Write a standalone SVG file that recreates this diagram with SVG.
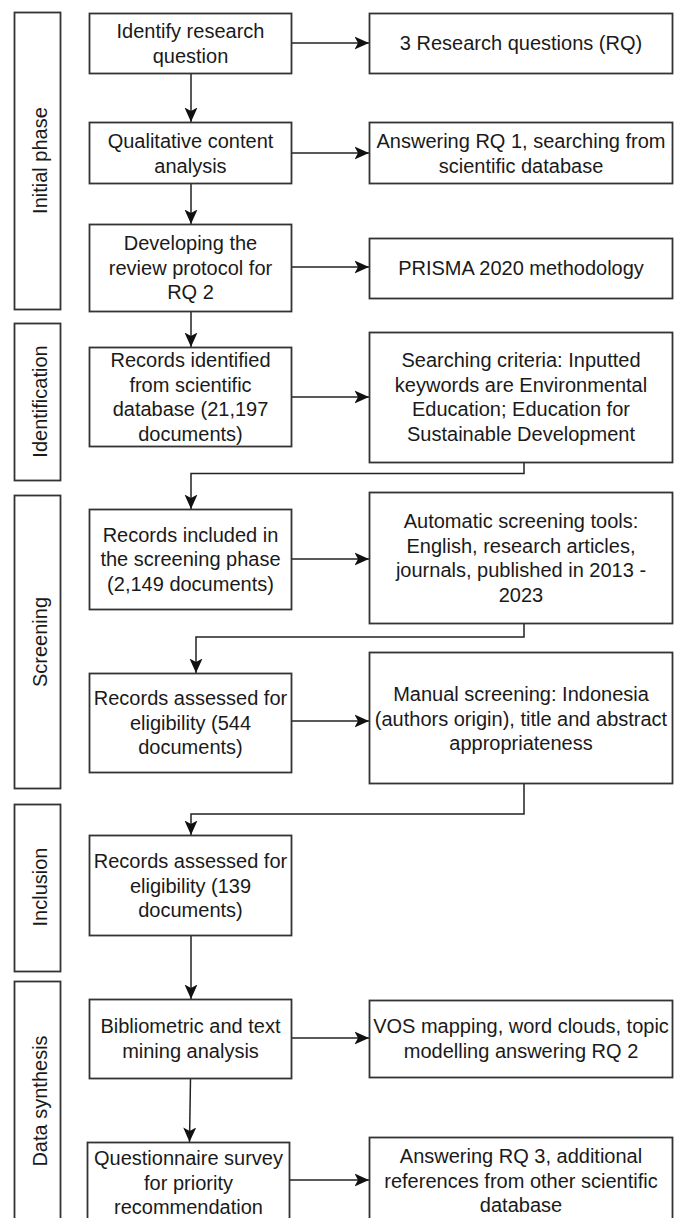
<svg xmlns="http://www.w3.org/2000/svg" width="676" height="1218" viewBox="0 0 676 1218">
<defs>
<marker id="arr" markerUnits="userSpaceOnUse" markerWidth="16" markerHeight="14" refX="14.5" refY="7" orient="auto">
<path d="M0,0.5 L14.5,7 L0,13.5 L3.5,7 Z" fill="#111"/>
</marker>
<style>
.box{fill:#fff;stroke:#333;stroke-width:1.8}
.ph{fill:#fff;stroke:#333;stroke-width:1.8}
.t{font-family:"Liberation Sans",Arial,sans-serif;font-size:20px;fill:#1a1a1a;text-anchor:middle}
.c{fill:none;stroke:#222;stroke-width:1.5}
</style>
</defs>
<rect width="676" height="1218" fill="#fff"/>

<g id="phase-initial"><rect class="ph" x="14.5" y="12.5" width="46" height="297"/><text class="t" x="46.5" y="160.5" transform="rotate(-90 46.5 160.5)">Initial phase</text></g>
<g id="phase-identification"><rect class="ph" x="14.5" y="323.5" width="46" height="157"/><text class="t" x="46.5" y="401.5" transform="rotate(-90 46.5 401.5)">Identification</text></g>
<g id="phase-screening"><rect class="ph" x="14.5" y="495.5" width="46" height="293"/><text class="t" x="46.5" y="642" transform="rotate(-90 46.5 642)">Screening</text></g>
<g id="phase-inclusion"><rect class="ph" x="14.5" y="804.5" width="46" height="167"/><text class="t" x="46.5" y="887" transform="rotate(-90 46.5 887)">Inclusion</text></g>
<g id="phase-synthesis"><rect class="ph" x="14.5" y="981.5" width="46" height="250"/><text class="t" x="46.5" y="1101" transform="rotate(-90 46.5 1101)">Data synthesis</text></g>

<g id="connectors">
<line class="c" x1="292" y1="43" x2="369" y2="43" marker-end="url(#arr)"/>
<line class="c" x1="191" y1="73" x2="191" y2="122" marker-end="url(#arr)"/>
<line class="c" x1="292" y1="153" x2="369" y2="153" marker-end="url(#arr)"/>
<line class="c" x1="191" y1="183" x2="191" y2="224" marker-end="url(#arr)"/>
<line class="c" x1="292" y1="267" x2="369" y2="267" marker-end="url(#arr)"/>
<line class="c" x1="191" y1="311" x2="191" y2="347" marker-end="url(#arr)"/>
<line class="c" x1="292" y1="397" x2="369" y2="397" marker-end="url(#arr)"/>
<polyline class="c" points="524,462 524,473.5 191,473.5 191,509" marker-end="url(#arr)"/>
<line class="c" x1="292" y1="559" x2="369" y2="559" marker-end="url(#arr)"/>
<polyline class="c" points="524,623 524,637 196,637 196,673" marker-end="url(#arr)"/>
<line class="c" x1="292" y1="721" x2="369" y2="721" marker-end="url(#arr)"/>
<polyline class="c" points="524,783 524,814 191,814 191,835" marker-end="url(#arr)"/>
<line class="c" x1="191" y1="935" x2="191" y2="999" marker-end="url(#arr)"/>
<line class="c" x1="292" y1="1038" x2="369" y2="1038" marker-end="url(#arr)"/>
<line class="c" x1="190.5" y1="1078" x2="189.5" y2="1142" marker-end="url(#arr)"/>
<line class="c" x1="289" y1="1180" x2="369" y2="1180" marker-end="url(#arr)"/>
</g>

<g id="n1"><rect class="box" x="89.5" y="13.5" width="202" height="60"/><text class="t" x="190.5" y="38">Identify research<tspan x="190.5" dy="24.5">question</tspan></text></g>
<g id="r1"><rect class="box" x="369.5" y="13.5" width="303" height="60"/><text class="t" x="521" y="50">3 Research questions (RQ)</text></g>

<g id="n2"><rect class="box" x="89.5" y="122.5" width="202" height="61"/><text class="t" x="190.5" y="148">Qualitative content<tspan x="190.5" dy="24.5">analysis</tspan></text></g>
<g id="r2"><rect class="box" x="369.5" y="122.5" width="303" height="61"/><text class="t" x="521" y="148">Answering RQ 1, searching from<tspan x="521" dy="24.5">scientific database</tspan></text></g>

<g id="n3"><rect class="box" x="89.5" y="224.5" width="202" height="87"/><text class="t" x="190.5" y="250">Developing the<tspan x="190.5" dy="24.5">review protocol for</tspan><tspan x="190.5" dy="24.5">RQ 2</tspan></text></g>
<g id="r3"><rect class="box" x="369.5" y="238.5" width="303" height="60"/><text class="t" x="521" y="275">PRISMA 2020 methodology</text></g>

<g id="n4"><rect class="box" x="89.5" y="347.5" width="202" height="99"/><text class="t" x="190.5" y="367">Records identified<tspan x="190.5" dy="24.5">from scientific</tspan><tspan x="190.5" dy="24.5">database (21,197</tspan><tspan x="190.5" dy="24.5">documents)</tspan></text></g>
<g id="r4"><rect class="box" x="369.5" y="332.5" width="303" height="130"/><text class="t" x="521" y="367">Searching criteria: Inputted<tspan x="521" dy="24.5">keywords are Environmental</tspan><tspan x="521" dy="24.5">Education; Education for</tspan><tspan x="521" dy="24.5">Sustainable Development</tspan></text></g>

<g id="n5"><rect class="box" x="89.5" y="509.5" width="202" height="100"/><text class="t" x="190.5" y="541.5">Records included in<tspan x="190.5" dy="24.5">the screening phase</tspan><tspan x="190.5" dy="24.5">(2,149 documents)</tspan></text></g>
<g id="r5"><rect class="box" x="369.5" y="492.5" width="303" height="131"/><text class="t" x="521" y="528">Automatic screening tools:<tspan x="521" dy="24.5">English, research articles,</tspan><tspan x="521" dy="24.5">journals, published in 2013 -</tspan><tspan x="521" dy="24.5">2023</tspan></text></g>

<g id="n6"><rect class="box" x="89.5" y="673.5" width="202" height="99"/><text class="t" x="190.5" y="705">Records assessed for<tspan x="190.5" dy="24.5">eligibility (544</tspan><tspan x="190.5" dy="24.5">documents)</tspan></text></g>
<g id="r6"><rect class="box" x="369.5" y="652.5" width="303" height="131"/><text class="t" x="521" y="701">Manual screening: Indonesia<tspan x="521" dy="24.5">(authors origin), title and abstract</tspan><tspan x="521" dy="24.5">appropriateness</tspan></text></g>

<g id="n7"><rect class="box" x="89.5" y="835.5" width="202" height="100"/><text class="t" x="190.5" y="868">Records assessed for<tspan x="190.5" dy="24.5">eligibility (139</tspan><tspan x="190.5" dy="24.5">documents)</tspan></text></g>

<g id="n8"><rect class="box" x="89.5" y="999.5" width="202" height="79"/><text class="t" x="190.5" y="1033">Bibliometric and text<tspan x="190.5" dy="24.5">mining analysis</tspan></text></g>
<g id="r8"><rect class="box" x="369.5" y="1000.5" width="303" height="77"/><text class="t" x="521" y="1033">VOS mapping, word clouds, topic<tspan x="521" dy="24.5">modelling answering RQ 2</tspan></text></g>

<g id="n9"><rect class="box" x="87.5" y="1142.5" width="202" height="82"/><text class="t" x="188.5" y="1165">Questionnaire survey<tspan x="188.5" dy="24.5">for priority</tspan><tspan x="188.5" dy="24.5">recommendation</tspan></text></g>
<g id="r9"><rect class="box" x="369.5" y="1137.5" width="303" height="88"/><text class="t" x="521" y="1163">Answering RQ 3, additional<tspan x="521" dy="24.5">references from other scientific</tspan><tspan x="521" dy="24.5">database</tspan></text></g>
</svg>
